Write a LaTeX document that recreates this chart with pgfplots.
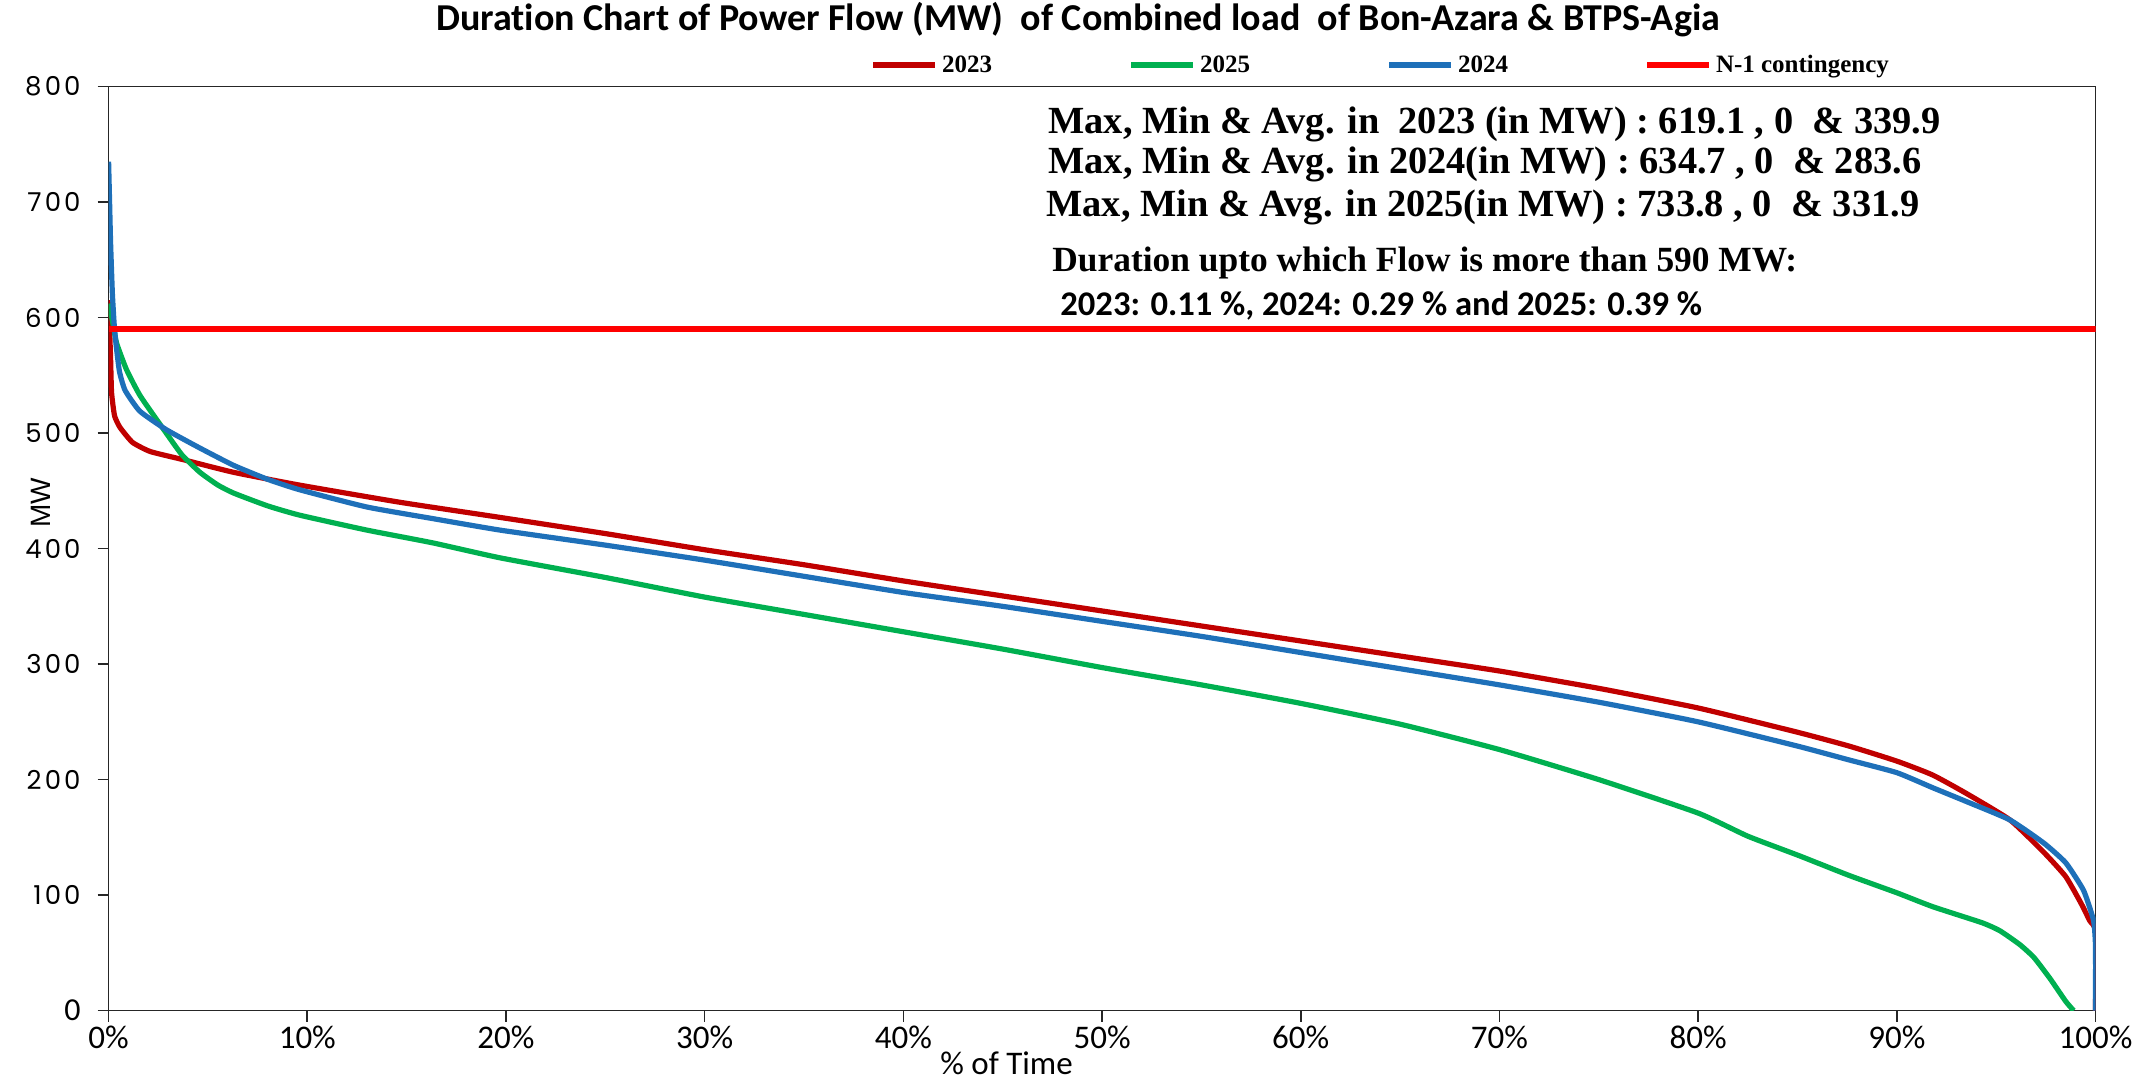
\documentclass[border=0pt]{standalone}
\usepackage{pgfplots}
\pgfplotsset{compat=1.18}
\usepackage{fontspec}
\setmainfont{Liberation Serif}
\newfontfamily\carlito[Ligatures=NoCommon]{Carlito}
\newfontfamily\poppins[LetterSpace=12]{Poppins}
\newfontfamily\lsans{Liberation Sans}
\definecolor{c23}{RGB}{192,0,0}
\definecolor{c25}{RGB}{0,176,80}
\definecolor{c24}{RGB}{30,112,185}
\definecolor{cn1}{RGB}{255,0,0}
\begin{document}
\begin{tikzpicture}
\useasboundingbox (-54.3pt,-34.2pt) rectangle (1023.7pt,505.3pt);
\begin{axis}[
  at={(0pt,0pt)}, anchor=south west,
  scale only axis, width=993.45pt, height=462pt,
  xmin=0, xmax=100, ymin=0, ymax=800,
  xtick={0,10,...,100},
  xticklabels={0\%,10\%,20\%,30\%,40\%,50\%,60\%,70\%,80\%,90\%,100\%},
  ytick={0,100,...,800},
  yticklabels={{\carlito\fontsize{16}{18}\selectfont 0},100,200,300,400,500,600,700,800},
  xticklabel style={font=\carlito\fontsize{16.5}{18}\selectfont, yshift=0pt, inner sep=2pt},
  yticklabel style={font=\poppins\fontsize{13}{15}\selectfont, xshift=-5pt},
  tick align=outside, tick pos=left,
  major tick length=5.5pt,
  axis line style={line width=0.8pt, black!85},
  every tick/.style={line width=0.8pt, black!85},
  legend style={at={(rel axis cs:0.380,1.003)}, anchor=south west, draw=none, fill=none,
     font=\bfseries\fontsize{12.5}{13}\selectfont, legend columns=4,
     /tikz/every even column/.append style={column sep=66pt}},
  legend image code/.code={\draw[#1, line width=3pt] (0pt,0pt) -- (31pt,0pt);},
]
\addplot[c23, line width=2.6pt, smooth, tension=0.3] coordinates {
(0,615) (0.05,590) (0.1,565) (0.15,535) (0.3,515) (0.57,505) (1.2,492) (2.1,484) (3.75,477) (6.3,466) (9.6,455) (14.7,440) (19.7,427) (25,413) (30,399) (35,386) (40,372) (45,359) (50,346) (55,333) (60,320) (65,307) (70,294) (75,279) (80,262) (85,241) (87.6,229) (90,216) (91.8,204) (93.5,188) (95.7,165) (97.4,137) (98.5,116) (99.3,92) (99.7,78) (100,68) (100,0)
};
\addlegendentry{2023}
\addplot[c25, line width=2.6pt, smooth, tension=0.3] coordinates {
(0,612) (0.1,605) (0.25,592) (0.4,578) (0.9,555) (1.6,532) (2.9,500) (3.7,481) (4.6,466) (5.5,455) (6.3,448) (8,437) (9.6,429) (13,416) (16.3,405) (19.7,392) (25,375) (30,358) (35,343) (40,328) (45,313) (50,297) (55,282) (60,266) (65,248) (70,226) (75,200) (80,171) (82.5,151) (85.1,134) (87.6,117) (90,102) (91.8,90) (94.3,76) (95.2,69) (96.2,57) (96.9,46) (97.7,28) (98.5,8) (98.9,0)
};
\addlegendentry{2025}
\addplot[c24, line width=2.6pt, smooth, tension=0.3] coordinates {
(0,735) (0.05,700) (0.1,665) (0.19,621) (0.29,592) (0.4,573) (0.55,553) (0.83,537) (1.57,519) (2.9,503) (4.6,487) (6.3,472) (8,460) (9.6,451) (13,436) (16.3,426) (19.7,416) (25,403) (30,390) (35,376) (40,362) (45,350) (50,337) (55,324) (60,310) (65,296) (70,282) (75,267) (80,250) (85,229) (87.6,217) (90,206) (91.8,193) (93.5,181) (95.7,165) (97.4,145) (98.5,128) (99.4,104) (99.9,78) (100,55) (100,0)
};
\addlegendentry{2024}
\addplot[cn1, line width=3pt] coordinates {(0,590) (100,590)};
\addlegendentry{N-1 contingency}
\end{axis}
% title
\node[font=\carlito\bfseries\fontsize{19}{21}\selectfont] at (484.7pt,495.6pt) {Duration Chart of Power Flow (MW)\ \ of Combined load\ \ of Bon-Azara \& BTPS-Agia};
% axis labels
\node[font=\carlito\fontsize{16.5}{18}\selectfont, inner sep=0pt] at (449pt,-26.3pt) {\% of Time};
\node[font=\lsans\fontsize{14}{16}\selectfont, rotate=90] at (-34pt,254pt) {MW};
% annotations
\node[anchor=west, font=\bfseries\fontsize{19.2}{21}\selectfont, inner sep=0pt] at (469.7pt,443pt) {Max, Min \& Avg. in\ \ 2023 (in MW) : 619.1 , 0\ \ \& 339.9};
\node[anchor=west, font=\bfseries\fontsize{19.2}{21}\selectfont, inner sep=0pt] at (469.7pt,423pt) {Max, Min \& Avg. in 2024(in MW) : 634.7 , 0\ \ \& 283.6};
\node[anchor=west, font=\bfseries\fontsize{19.2}{21}\selectfont, inner sep=0pt] at (468.7pt,401.5pt) {Max, Min \& Avg. in 2025(in MW) : 733.8 , 0\ \ \& 331.9};
\node[anchor=west, font=\bfseries\fontsize{17.7}{19}\selectfont, inner sep=0pt] at (471.7pt,374pt) {Duration upto which Flow is more than 590 MW:};
\node[anchor=west, font=\carlito\bfseries\fontsize{17.3}{19}\selectfont, inner sep=0pt] at (475.7pt,352.6pt) {2023: 0.11 \%, 2024: 0.29 \% and 2025: 0.39 \%};
\end{tikzpicture}
\end{document}
